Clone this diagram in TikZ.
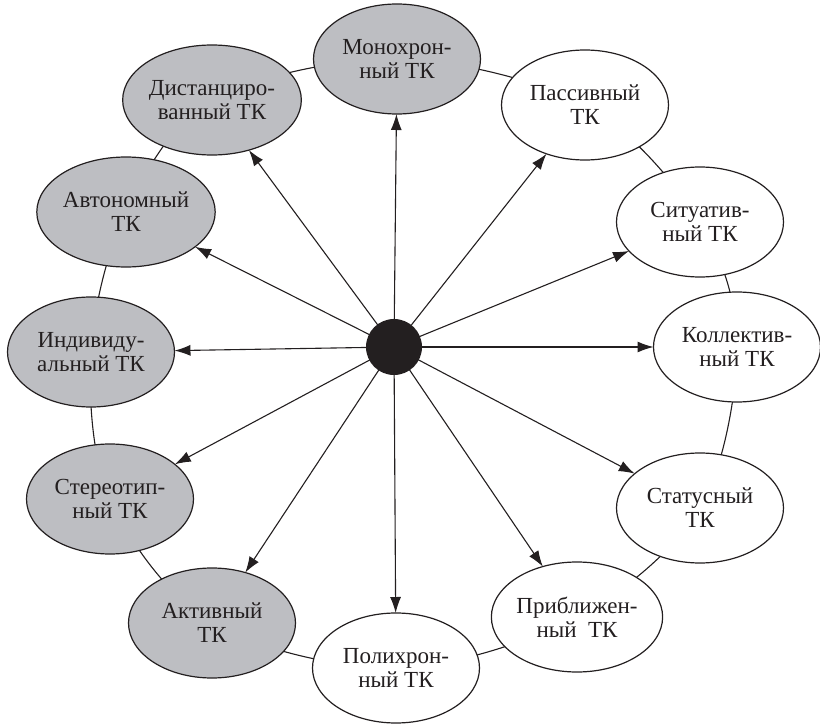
\documentclass[tikz,border=0pt]{standalone}
\usepackage{fontspec}
\setmainfont{Liberation Serif}
\usetikzlibrary{shapes.geometric,arrows.meta,backgrounds}
\definecolor{tkgray}{RGB}{189,190,194}
\definecolor{ink}{RGB}{35,31,32}
\tikzset{
  tk/.style={ellipse, draw=ink, line width=1.2pt, minimum width=167pt, minimum height=110pt,
    inner sep=0pt, outer sep=0pt, align=center, text=ink,
    font=\fontsize{23}{24}\selectfont},
  tkg/.style={tk, fill=tkgray},
  tkw/.style={tk, fill=white},
  arr/.style={draw=ink, line width=1.1pt, -{Latex[length=16pt,width=11pt]}},
  ringline/.style={draw=ink, line width=1.1pt},
  hub/.style={circle, fill=ink, minimum size=56pt, inner sep=0pt}
}
\begin{document}
\begin{tikzpicture}[x=1pt,y=-1pt]
\useasboundingbox (0,0) rectangle (820,725);
\node[tkg] (M)  at (397,59)  {Монохрон-\\ный ТК};
\node[tkg] (D)  at (212,100) {Дистанциро-\\ванный ТК};
\node[tkg] (A)  at (126,212) {Автономный\\ТК};
\node[tkg] (I)  at (91,352)  {Индивиду-\\альный ТК};
\node[tkg] (S)  at (110,499) {Стереотип-\\ный ТК};
\node[tkg] (Ak) at (212,623) {Активный\\ТК};
\node[tkw] (P)  at (396,668) {Полихрон-\\ный ТК};
\node[tkw] (Pr) at (577,617) {Приближен-\\ный\ \ ТК};
\node[tkw] (St) at (700,508) {Статусный\\ТК};
\node[tkw] (K)  at (737,347) {Коллектив-\\ный ТК};
\node[tkw] (Si) at (700,222) {Ситуатив-\\ный ТК};
\node[tkw] (Pa) at (585,105) {Пассивный\\ТК};
\coordinate (c) at (394,347);
\begin{scope}[on background layer]
\draw[ringline] plot[smooth cycle, tension=0.55] coordinates {(M) (Pa) (Si) (K) (St) (Pr) (P) (Ak) (S) (I) (A) (D)};
\end{scope}
\foreach \n in {M,D,A,I,S,Ak,P,Pr,St,K,Si,Pa}{
  \draw[arr] (c) -- (\n);
}
\node[hub] (hub) at (c) {};
\end{tikzpicture}
\end{document}
